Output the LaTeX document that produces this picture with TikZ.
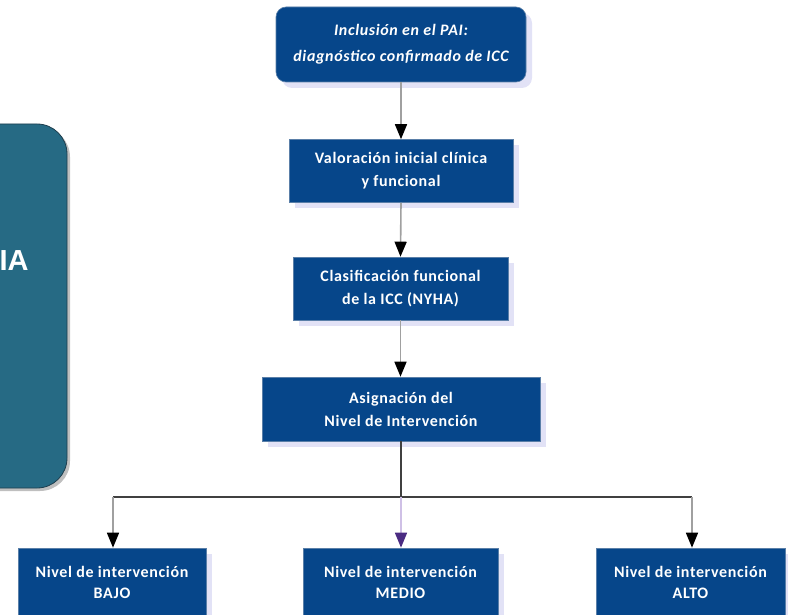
\documentclass[tikz,border=0pt]{standalone}
\usepackage{fontspec}
\setmainfont{Carlito}
\newfontfamily\panelfont{Liberation Sans}
\usetikzlibrary{shadows,arrows.meta}
\definecolor{boxblue}{HTML}{06468A}
\definecolor{boxedge}{HTML}{5A7FA8}
\definecolor{shadowc}{HTML}{E2E2F6}
\definecolor{panelteal}{HTML}{266A84}
\definecolor{paneledge}{HTML}{1E3E4E}
\definecolor{lineg}{HTML}{A0A0A0}
\definecolor{darkl}{HTML}{404040}
\definecolor{purp}{HTML}{4B2C82}
\definecolor{lpurp}{HTML}{CFC0E6}
\tikzset{
  bluebox/.style={draw=boxedge, line width=0.6pt, fill=boxblue, inner sep=0pt,
    drop shadow={shadow xshift=6pt, shadow yshift=-6pt, fill=shadowc, opacity=1},
    text=white, align=center,
    font=\fontsize{16}{23}\selectfont\bfseries\addfontfeature{LetterSpace=4}},
  boxtext/.style={text=white, align=center, inner sep=0pt,
    font=\fontsize{16}{21}\selectfont\bfseries\addfontfeature{LetterSpace=4}},
  grayarrow/.style={draw=lineg, line width=1.6pt, -{Triangle[width=12pt,length=15pt,fill=black,color=black]}},
  purparrow/.style={draw=lpurp, line width=1.6pt, -{Triangle[width=12pt,length=15pt,fill=purp,color=purp]}},
  darkline/.style={draw=darkl, line width=1.1pt},
  panel/.style={draw=paneledge, line width=0.8pt, fill=panelteal, rounded corners=30pt,
    drop shadow={shadow xshift=3pt, shadow yshift=-3pt, fill=black, opacity=0.25}}
}
\begin{document}
\begin{tikzpicture}[x=1pt,y=-1pt]
\useasboundingbox (0,0) rectangle (788,615);
% left panel
\node[panel, minimum width=107pt, minimum height=364pt] (panel) at (13.5,306) {};
\node[text=white, inner sep=0pt, font=\panelfont\fontsize{29}{32}\selectfont\bfseries] (ia) at (14,261) {IA};
% main flow
\node[bluebox, rounded corners=10pt, minimum width=250pt, minimum height=75pt,
  font=\fontsize{16}{26}\selectfont\bfseries\itshape\addfontfeature{LetterSpace=4}] (top) at (401,44.5)
  {Inclusión en el PAI:\\diagnóstico confirmado de ICC};
\node[bluebox, minimum width=224pt, minimum height=63pt] (val) at (401,171)
  {Valoración inicial clínica\\y funcional};
\node[bluebox, minimum width=215pt, minimum height=63pt] (cla) at (400.5,288.5)
  {Clasificación funcional\\de la ICC (NYHA)};
\node[bluebox, minimum width=278pt, minimum height=64pt] (asi) at (401,409)
  {Asignación del\\Nivel de Intervención};
% bottom boxes
\node[bluebox, minimum width=188pt, minimum height=92pt] (bajo) at (112,594) {};
\node[bluebox, minimum width=195pt, minimum height=92pt] (medio) at (400.5,594) {};
\node[bluebox, minimum width=189pt, minimum height=92pt] (alto) at (690.5,594) {};
\node[boxtext] (bajot) at (112,582) {Nivel de intervención\\BAJO};
\node[boxtext] (mediot) at (400.5,582) {Nivel de intervención\\MEDIO};
\node[boxtext] (altot) at (690.5,582) {Nivel de intervención\\ALTO};
% connectors
\coordinate (split) at (401,497);
\coordinate (lft) at (113,497);
\coordinate (rgt) at (692,497);
\draw[grayarrow] (top.south) -- (val.north);
\draw[grayarrow] (val.south) -- (cla.north);
\draw[grayarrow] (cla.south) -- (cla.south |- asi.north);
\draw[darkline] (asi.south) -- (split);
\draw[darkline] (lft) -- (rgt);
\draw[grayarrow] (lft) -- (lft |- bajo.north);
\draw[purparrow] (split) -- (split |- medio.north);
\draw[grayarrow] (rgt) -- (rgt |- alto.north);
\end{tikzpicture}
\end{document}
